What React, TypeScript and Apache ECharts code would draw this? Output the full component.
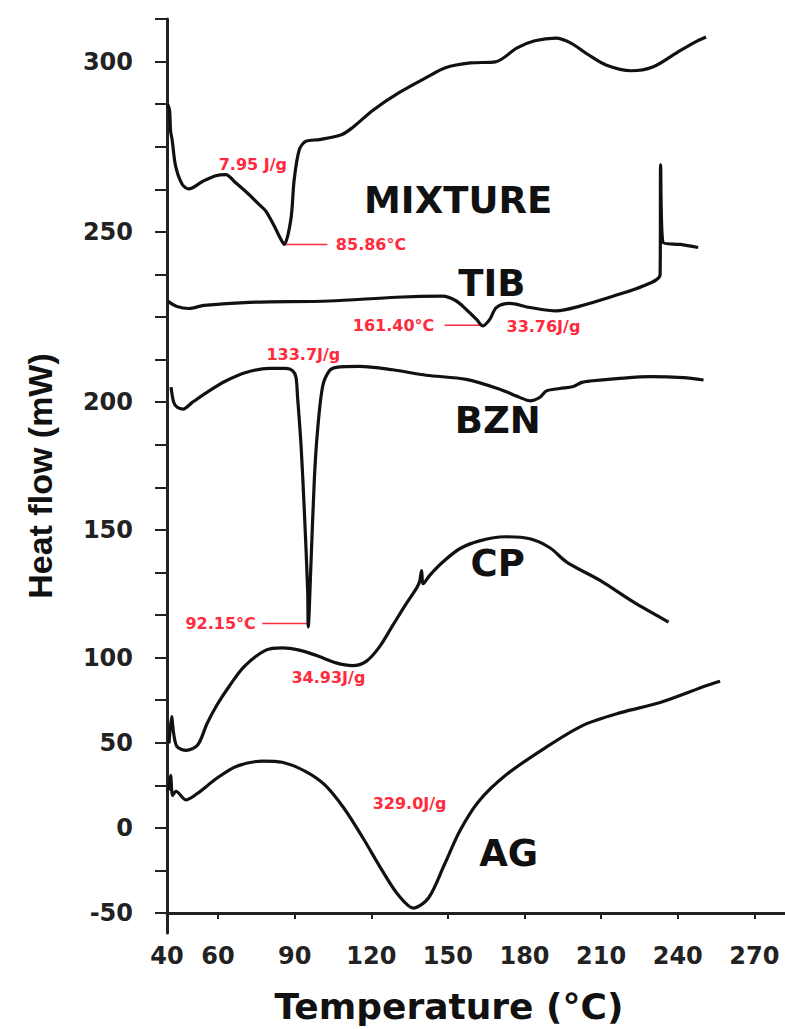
import React, { useEffect, useRef } from "react";
import * as echarts from "echarts";

// ---- axis definitions ----
const X_TICKS = [40, 60, 90, 120, 150, 180, 210, 240, 270];
// y axis of the original is broken: labels sit on these tick slots
const Y_LABELS = [-50, 0, 50, 100, 150, 200, 250, 300];
const Y_LABEL_SLOTS = [0, 2, 4, 6, 9, 12, 16, 20];
const Y_TICK_SLOTS = [0, 1, 2, 3, 4, 5, 6, 7, 8, 9, 10, 11, 12, 13, 14, 15, 16, 17, 18, 19, 20, 21];

// ---- curves: [temperature °C, heat flow mW] ----
const MIXTURE: [number, number][] = [
  [40.2, 287.6], [41.0, 285.7], [41.4, 279.6], [42.0, 277.1], [43.4, 269.2], [46.0, 263.9],
  [48.6, 262.6], [53.9, 264.8], [59.1, 266.5], [63.0, 266.8], [66.9, 264.4], [72.2, 260.9],
  [76.1, 258.0], [78.7, 256.1], [82.0, 251.7], [84.6, 247.8], [85.9, 246.3], [88.5, 253.6],
  [89.8, 265.3], [91.8, 274.1], [94.4, 276.6], [99.7, 277.1], [108.3, 278.5], [112.6, 280.6],
  [120.8, 285.8], [130.7, 290.8], [142.0, 295.5], [149.0, 298.2], [158.8, 299.6], [168.6, 299.9],
  [177.1, 304.0], [184.0, 306.1], [192.3, 306.9], [198.0, 305.5], [205.0, 302.0], [211.9, 299.0],
  [221.7, 297.3], [230.2, 298.4], [240.0, 302.8], [247.0, 305.8], [251.1, 307.2],
];

const TIB: [number, number][] = [
  [40.4, 229.6], [43.9, 228.1], [48.6, 227.5], [54.5, 228.4], [72.2, 229.3], [103.6, 229.7],
  [129.8, 230.8], [147.9, 231.1], [153.3, 229.7], [157.2, 227.2], [161.2, 224.3], [163.7, 222.4],
  [166.4, 224.3], [169.0, 227.8], [174.2, 229.0], [182.1, 227.8], [192.5, 226.8], [201.7, 228.2],
  [214.6, 231.1], [226.4, 234.1], [233.1, 237.5], [233.3, 269.7], [234.2, 246.9], [241.0, 246.3],
  [248.0, 245.4],
];

const BZN: [number, number][] = [
  [41.6, 204.4], [42.6, 200.0], [44.0, 198.0], [46.3, 197.3], [49.9, 199.9], [56.5, 203.3],
  [63.0, 206.2], [70.9, 208.7], [80.0, 209.9], [86.6, 209.9], [89.2, 209.2], [90.5, 207.3],
  [91.1, 201.8], [92.5, 182.9], [93.8, 156.9], [95.1, 125.7], [95.3, 112.0], [96.4, 137.4],
  [97.7, 169.9], [99.0, 189.4], [101.0, 204.8], [103.6, 209.2], [106.2, 210.2], [115.4, 210.5],
  [128.4, 209.5], [141.5, 207.9], [157.2, 206.7], [170.3, 203.8], [178.1, 201.4], [182.1, 200.4],
  [186.0, 201.4], [188.6, 203.3], [193.8, 204.0], [199.1, 204.6], [202.4, 205.8], [205.6, 206.2],
  [216.1, 206.9], [229.2, 207.5], [242.2, 207.2], [250.1, 206.5],
];

const CP: [number, number][] = [
  [40.8, 49.6], [41.8, 65.4], [42.6, 55.5], [43.9, 47.8], [47.5, 45.5], [52.0, 48.6],
  [55.7, 61.3], [59.5, 72.0], [64.3, 83.0], [70.2, 94.7], [78.7, 102.9], [85.1, 103.8],
  [91.8, 102.9], [98.3, 100.9], [106.2, 96.9], [112.6, 95.3], [118.0, 97.8], [123.2, 104.2],
  [128.4, 112.6], [133.7, 121.1], [137.6, 127.0], [138.9, 129.7], [139.7, 134.0], [140.3, 128.9],
  [142.8, 132.1], [148.0, 137.4], [154.6, 142.6], [162.4, 145.7], [172.3, 147.3], [182.1, 146.5],
  [189.9, 143.0], [196.5, 137.4], [209.6, 130.2], [222.6, 121.8], [236.4, 113.9],
];

const AG: [number, number][] = [
  [40.6, 22.1], [41.4, 30.9], [42.2, 19.1], [43.5, 21.5], [47.5, 16.4], [52.0, 20.3],
  [59.5, 29.1], [67.1, 36.1], [77.6, 39.2], [85.1, 38.5], [94.2, 33.2], [101.8, 25.2],
  [109.3, 11.5], [116.8, -6.1], [124.4, -25.4], [130.5, -39.3], [136.5, -47.1], [142.4, -41.2],
  [148.6, -21.7], [154.6, -2.0], [162.1, 15.6], [172.7, 31.0], [187.8, 46.7], [202.9, 60.2],
  [218.0, 67.8], [233.1, 73.6], [251.4, 83.6], [256.6, 86.1],
];

// ---- annotations: [text, °C, mW] ----
const RED_NOTES: [string, number, number][] = [
  ["7.95 J/g", 73.6, 269.7],
  ["85.86°C", 119.9, 246.3],
  ["161.40°C", 128.7, 222.6],
  ["33.76J/g", 187.4, 222.3],
  ["133.7J/g", 93.4, 213.9],
  ["92.15°C", 61.0, 113.3],
  ["34.93J/g", 103.2, 88.3],
  ["329.0J/g", 135.0, 14.4],
];

const NAME_NOTES: [string, number, number][] = [
  ["MIXTURE", 154.0, 259.2],
  ["TIB", 167.2, 234.9],
  ["BZN", 169.5, 192.8],
  ["CP", 169.5, 136.7],
  ["AG", 173.8, -14.8],
];

// leader lines: [[°C, mW], [°C, mW]]
const LEADERS: [number, number][][] = [
  [[85.9, 246.3], [102.8, 246.3]],
  [[148.7, 222.6], [163.6, 222.6]],
  [[77.3, 113.3], [94.9, 113.3]],
];

function toSlot(v: number): number {
  const L = Y_LABELS;
  const S = Y_LABEL_SLOTS;
  let i = 0;
  while (i < L.length - 2 && v > L[i + 1]) i++;
  return S[i] + ((v - L[i]) * (S[i + 1] - S[i])) / (L[i + 1] - L[i]);
}

const FONT = "'DejaVu Sans', sans-serif";
const RED = "#ff2a3c";
const INK = "#111111";

export default function App() {
  const ref = useRef<HTMLDivElement>(null);

  useEffect(() => {
    if (!ref.current) return;
    const chart = echarts.init(ref.current, null, { renderer: "svg" });
    const toPt = (p: [number, number]) => [p[0], toSlot(p[1])];

    const curve = (name: string, pts: [number, number][]) => ({
      type: "line",
      name,
      data: pts.map(toPt),
      showSymbol: false,
      symbol: "none",
      smooth: 0.3,
      silent: true,
      lineStyle: { color: INK, width: 3.2 },
      z: 3,
    });

    const leaders = LEADERS.map((seg, i) => ({
      type: "line",
      name: "leader" + i,
      data: seg.map(toPt),
      showSymbol: false,
      symbol: "none",
      silent: true,
      lineStyle: { color: RED, width: 1.5 },
      z: 2,
    }));

    const textSeries = (name: string, notes: [string, number, number][], color: string, size: number) => ({
      type: "scatter",
      name,
      silent: true,
      symbolSize: 1,
      itemStyle: { color: "rgba(0,0,0,0)", opacity: 1 },
      data: notes.map(([t, x, y]) => ({ name: t, value: [x, toSlot(y)] })),
      label: {
        show: true,
        position: "inside",
        formatter: "{b}",
        color,
        opacity: 1,
        fontFamily: FONT,
        fontWeight: "bold",
        fontSize: size,
      },
      z: 5,
    });

    const option = {
      animation: false,
      backgroundColor: "#ffffff",
      grid: { left: 167, right: 0, top: 19, bottom: 94, containLabel: false },
      xAxis: {
        type: "value",
        min: 40,
        max: 282,
        name: "Temperature (°C)",
        nameLocation: "middle",
        nameGap: 55,
        nameTextStyle: {
          fontFamily: FONT,
          fontWeight: "bold",
          fontSize: 36,
          color: INK,
          padding: [0, 54, 0, 0],
        },
        axisLine: { show: true, lineStyle: { color: "#222", width: 3 } },
        axisTick: {
          show: true,
          customValues: X_TICKS,
          length: 6,
          lineStyle: { color: "#222", width: 2 },
        },
        axisLabel: {
          customValues: X_TICKS,
          margin: 11,
          fontFamily: FONT,
          fontWeight: "bold",
          fontSize: 24,
          color: "#222",
        },
        splitLine: { show: false },
      },
      yAxis: {
        type: "value",
        min: -0.47,
        max: 21,
        name: "Heat flow (mW)",
        nameLocation: "middle",
        nameRotate: 90,
        nameGap: 110,
        nameTextStyle: {
          fontFamily: "'Liberation Sans', Arial, sans-serif",
          fontWeight: "bold",
          fontSize: 34,
          color: INK,
        },
        axisLine: { show: true, lineStyle: { color: "#222", width: 3 } },
        axisTick: {
          show: true,
          customValues: Y_TICK_SLOTS,
          length: 12,
          lineStyle: { color: "#222", width: 2 },
        },
        axisLabel: {
          customValues: Y_LABEL_SLOTS,
          margin: 34,
          fontFamily: FONT,
          fontWeight: "bold",
          fontSize: 24,
          color: "#222",
          formatter: (v: number) => {
            const idx = Y_LABEL_SLOTS.indexOf(Math.round(v));
            return idx >= 0 ? String(Y_LABELS[idx]) : "";
          },
        },
        splitLine: { show: false },
      },
      series: [
        curve("MIXTURE", MIXTURE),
        curve("TIB", TIB),
        curve("BZN", BZN),
        curve("CP", CP),
        curve("AG", AG),
        ...leaders,
        textSeries("notes", RED_NOTES, RED, 16),
        textSeries("names", NAME_NOTES, INK, 37),
      ],
    };

    chart.setOption(option as any);
    return () => chart.dispose();
  }, []);

  return (
    <div
      ref={ref}
      style={{ position: "fixed", left: 0, top: 0, width: 785, height: 1029, background: "#fff" }}
    />
  );
}
